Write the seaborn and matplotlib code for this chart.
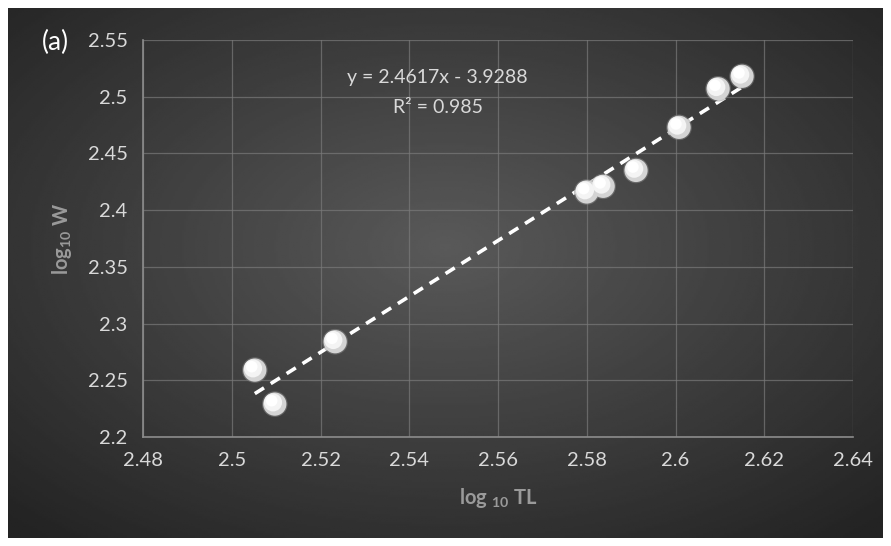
import numpy as np
import pandas as pd
import matplotlib
matplotlib.use("Agg")
import matplotlib.pyplot as plt
import seaborn as sns

# values
log_tl = [2.5052, 2.5097, 2.5233, 2.5800, 2.5837, 2.5911, 2.6008, 2.6096, 2.6150]
log_w = [2.259, 2.229, 2.284, 2.416, 2.421, 2.435, 2.473, 2.507, 2.518]
slope = 2.4617
intercept = -3.9288
r_squared = 0.985
x_ticks = [2.48, 2.50, 2.52, 2.54, 2.56, 2.58, 2.60, 2.62, 2.64]
y_ticks = [2.2, 2.25, 2.3, 2.35, 2.4, 2.45, 2.5, 2.55]

df = pd.DataFrame({"log_tl": log_tl, "log_w": log_w})

sns.set_style("white")
plt.rcParams["font.family"] = ["Lato", "DejaVu Sans"]
plt.rcParams["mathtext.fontset"] = "custom"
plt.rcParams["mathtext.rm"] = "Lato"
plt.rcParams["mathtext.bf"] = "Lato:bold"

W, H = 891, 546
fig = plt.figure(figsize=(W / 100, H / 100), dpi=100, facecolor="white")

# dark radial gradient background with thin white frame
bg = fig.add_axes([8 / W, 8 / H, (W - 16) / W, (H - 16) / H], zorder=0)
gx, gy = np.meshgrid(np.linspace(0, 1, 400), np.linspace(0, 1, 250))
r = np.sqrt(((gx - 0.5) / 0.75) ** 2 + ((gy - 0.45) / 0.75) ** 2)
shade = np.clip(0.35 - 0.22 * r, 0.14, 0.35)
bg.imshow(shade, cmap="gray", vmin=0, vmax=1, aspect="auto", extent=[0, 1, 0, 1])
bg.set_axis_off()

left, right, top, bottom = 143, 853, 40, 437
ax = fig.add_axes([left / W, 1 - bottom / H, (right - left) / W, (bottom - top) / H], zorder=1)
ax.set_facecolor("none")

# trendline
xs = np.array([min(log_tl), max(log_tl)])
ax.plot(xs, slope * xs + intercept, color="white", lw=2.6, ls=(0, (3, 2.2)), zorder=3)

# sphere-like markers
sns.scatterplot(data=df, x="log_tl", y="log_w", ax=ax, s=340, color="#8a8a8a",
                edgecolor="none", alpha=0.5, zorder=4, legend=False)
sns.scatterplot(data=df, x="log_tl", y="log_w", ax=ax, s=280, color="#d4d4d4",
                edgecolor="none", zorder=5, legend=False)
ax.scatter(np.array(log_tl) - 0.0004, np.array(log_w) + 0.0015, s=170, color="#f4f4f4",
           edgecolor="none", zorder=6)
ax.scatter(np.array(log_tl) - 0.0007, np.array(log_w) + 0.003, s=70, color="white",
           edgecolor="none", zorder=7)

ax.set_xlim(2.48, 2.64)
ax.set_ylim(2.2, 2.55)
ax.set_xticks(x_ticks)
ax.set_yticks(y_ticks)
ax.set_xticklabels([f"{v:g}" for v in x_ticks])
ax.set_yticklabels([f"{v:g}" for v in y_ticks])
ax.grid(True, color="#7a7a7a", lw=0.9, alpha=0.7)
for s in ["top", "right"]:
    ax.spines[s].set_visible(False)
for s in ["left", "bottom"]:
    ax.spines[s].set_color("#8c8c8c")
    ax.spines[s].set_linewidth(1.2)
ax.tick_params(colors="#d9d9d9", labelsize=14.5, length=0, pad=11)

ax.set_xlabel(r"$\bf{log}$ $_{\bf{10}}$ $\bf{TL}$", color="#9a9a9a", fontsize=14.5, labelpad=12)
ax.set_ylabel(r"$\bf{log_{10}}$ $\bf{W}$", color="#9a9a9a", fontsize=14.5, labelpad=10)

ax.text(0.415, 0.905, f"y = {slope}x - {abs(intercept)}", transform=ax.transAxes,
        ha="center", va="center", color="#d9d9d9", fontsize=14)
ax.text(0.415, 0.83, f"R² = {r_squared}", transform=ax.transAxes,
        ha="center", va="center", color="#d9d9d9", fontsize=14)

fig.text(55 / W, 1 - 42 / H, "(a)", color="white", fontsize=19, ha="center", va="center")

fig.savefig("out.png", dpi=100, facecolor="white")
